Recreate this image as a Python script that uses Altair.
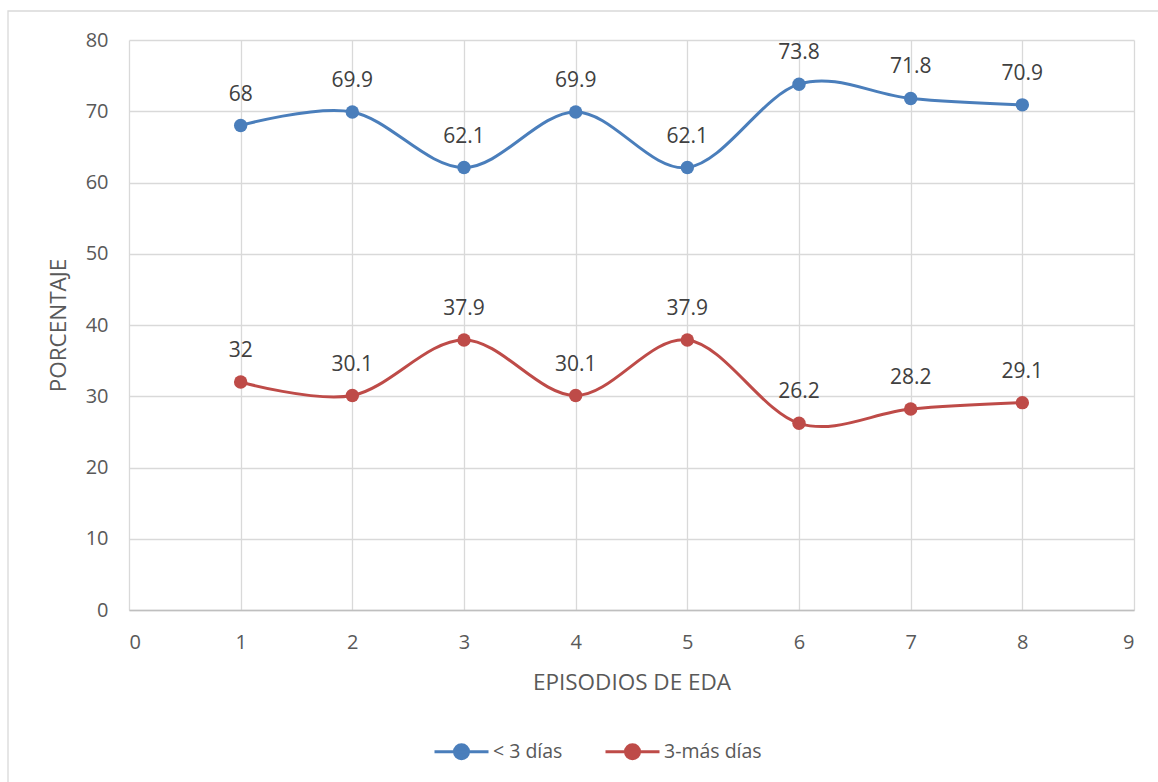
import altair as alt
import pandas as pd

# Episodes of acute diarrhoeal disease (EDA) and share by duration
episodios = [1, 2, 3, 4, 5, 6, 7, 8]
menos_3_dias = [68, 69.9, 62.1, 69.9, 62.1, 73.8, 71.8, 70.9]
tres_mas_dias = [32, 30.1, 37.9, 30.1, 37.9, 26.2, 28.2, 29.1]
series = ["< 3 días", "3-más días"]
colores = ["#4a7ebb", "#be4b48"]

rows = []
for ep, a, b in zip(episodios, menos_3_dias, tres_mas_dias):
    rows.append({"ep": ep, "pct": a, "serie": series[0]})
    rows.append({"ep": ep, "pct": b, "serie": series[1]})
df = pd.DataFrame(rows)

FONT = "Open Sans"
W, H = 1005, 570
LEFT, TOP = 129, 40

x = alt.X("ep:Q", scale=alt.Scale(domain=[0, 9], nice=False),
          axis=alt.Axis(values=list(range(10)), title="EPISODIOS DE EDA",
                        grid=True, gridColor="#d9d9d9", gridWidth=1.3,
                        domainColor="#bfbfbf", domainWidth=1.5, ticks=False,
                        labelFontSize=20, labelColor="#595959", labelPadding=22,
                        titleFontSize=22.5, titleFontWeight="normal",
                        titleColor="#595959", titlePadding=19))
y = alt.Y("pct:Q", scale=alt.Scale(domain=[0, 80], nice=False),
          axis=alt.Axis(values=list(range(0, 81, 10)), title="PORCENTAJE",
                        grid=True, gridColor="#d9d9d9", gridWidth=1.3,
                        domain=False, ticks=False,
                        labelFontSize=20, labelColor="#595959", labelPadding=21,
                        titleFontSize=22.5, titleFontWeight="normal",
                        titleColor="#595959", titlePadding=15))
color = alt.Color("serie:N", scale=alt.Scale(domain=series, range=colores),
                  legend=alt.Legend(
                      title=None, orient="none", direction="horizontal",
                      legendX=313, legendY=692, padding=0,
                      symbolType="M-1.5,0H1.5M-0.39,0A0.39,0.39,0,1,0,0.39,0A0.39,0.39,0,1,0,-0.39,0Z",
                      symbolSize=1296, symbolStrokeWidth=3,
                      labelFontSize=19.5, labelColor="#595959", labelFont=FONT,
                      labelOffset=12, columnPadding=36))

base = alt.Chart(df)

lines = base.mark_line(interpolate="cardinal", strokeWidth=3).encode(x=x, y=y, color=color)
points = base.mark_point(filled=True, size=180, opacity=1).encode(
    x=x, y=y, color=alt.Color("serie:N", scale=alt.Scale(domain=series, range=colores), legend=None))
labels = base.mark_text(dy=-31, fontSize=21, color="#404040", font=FONT).encode(
    x=x, y=y, text=alt.Text("pct:Q"))

frame = alt.Chart(pd.DataFrame({"k": [0]})).mark_rect(
    fill=None, stroke="#d9d9d9", strokeWidth=1.3, clip=False).encode(
    x=alt.value(8 - LEFT), x2=alt.value(1170 - LEFT),
    y=alt.value(11 - TOP), y2=alt.value(800 - TOP))

chart = alt.layer(frame, lines, points, labels).properties(
    width=W, height=H,
    autosize=alt.AutoSizeParams(type="none"),
    padding={"left": LEFT, "top": TOP, "right": 1158 - LEFT - W, "bottom": 782 - TOP - H},
).configure(font=FONT, background="white").configure_view(stroke=None)

chart.save("out.html", embed_options={"renderer": "svg", "actions": False})
